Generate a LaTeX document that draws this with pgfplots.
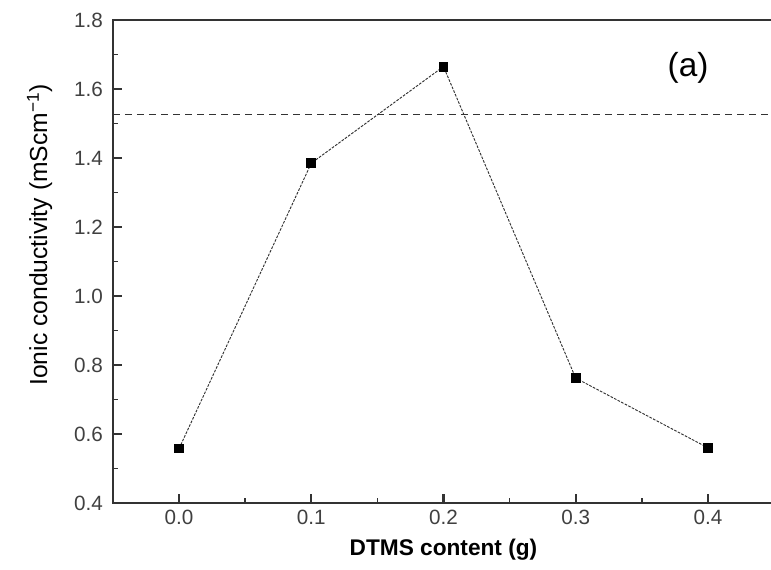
\documentclass[border=0pt]{standalone}
\usepackage{fontspec}
\setmainfont{Liberation Sans}
\usepackage{pgfplots}
\pgfplotsset{compat=1.18}

\definecolor{axisgray}{HTML}{333333}
\definecolor{labgray}{HTML}{404040}

\begin{document}
\begin{tikzpicture}
\begin{axis}[
    name=ax,
    scale only axis,
    width=495.75pt,
    height=362.25pt,
    xmin=-0.05, xmax=0.45,
    ymin=0.4, ymax=1.8,
    xtick={0,0.1,0.2,0.3,0.4},
    xticklabels={0.0,0.1,0.2,0.3,0.4},
    ytick={0.4,0.6,...,1.8},
    yticklabels={0.4,0.6,0.8,1.0,1.2,1.4,1.6,1.8},
    minor x tick num=1,
    minor y tick num=1,
    xtick pos=bottom,
    ytick pos=left,
    tick align=inside,
    major tick length=7pt,
    minor tick length=4pt,
    every major tick/.append style={line width=1.6pt, axisgray},
    every minor tick/.append style={line width=1.2pt, axisgray},
    axis line style={line width=1.2pt, axisgray},
    /pgf/number format/assume math mode=true,
    ticklabel style={font=\fontsize{15.5}{18}\selectfont, text=labgray},
    xticklabel style={yshift=-2pt},
    yticklabel style={xshift=-4pt},
    xlabel={\textbf{DTMS content (g)}},
    ylabel={Ionic conductivity (mScm\textsuperscript{−1})},
    xlabel style={font=\fontsize{17}{20}\selectfont, at={(rel axis cs:0.5,0)}, anchor=center, yshift=-35pt},
    ylabel style={font=\fontsize{18.5}{21}\selectfont, at={([xshift=-55pt]rel axis cs:0,0.555)}, anchor=center},
    clip=false,
]

% horizontal reference level
\addplot[dash pattern=on 5.5pt off 3.5pt, line width=1pt, axisgray, forget plot]
coordinates {
    (-0.05,1.527)
    (0.447,1.527)
};

% measured conductivity
\addplot[
    color=axisgray,
    line width=0.7pt,
    dash pattern=on 2pt off 1pt,
    mark=square*,
    mark size=3.3pt,
    mark options={solid, fill=black, draw=black}
]
coordinates {
    (0.0,0.558)
    (0.1,1.385)
    (0.2,1.665)
    (0.3,0.762)
    (0.4,0.560)
};

\node[font=\fontsize{25}{28}\selectfont, text=black] at (axis cs:0.385,1.66) {(a)};

\coordinate (bbl) at ([shift={(-84.75pt,-50.25pt)}]rel axis cs:0,0);
\coordinate (bbr) at ([shift={(493.5pt,377.25pt)}]rel axis cs:0,0);
\end{axis}
\pgfresetboundingbox
\path (bbl) rectangle (bbr);
\end{tikzpicture}
\end{document}
